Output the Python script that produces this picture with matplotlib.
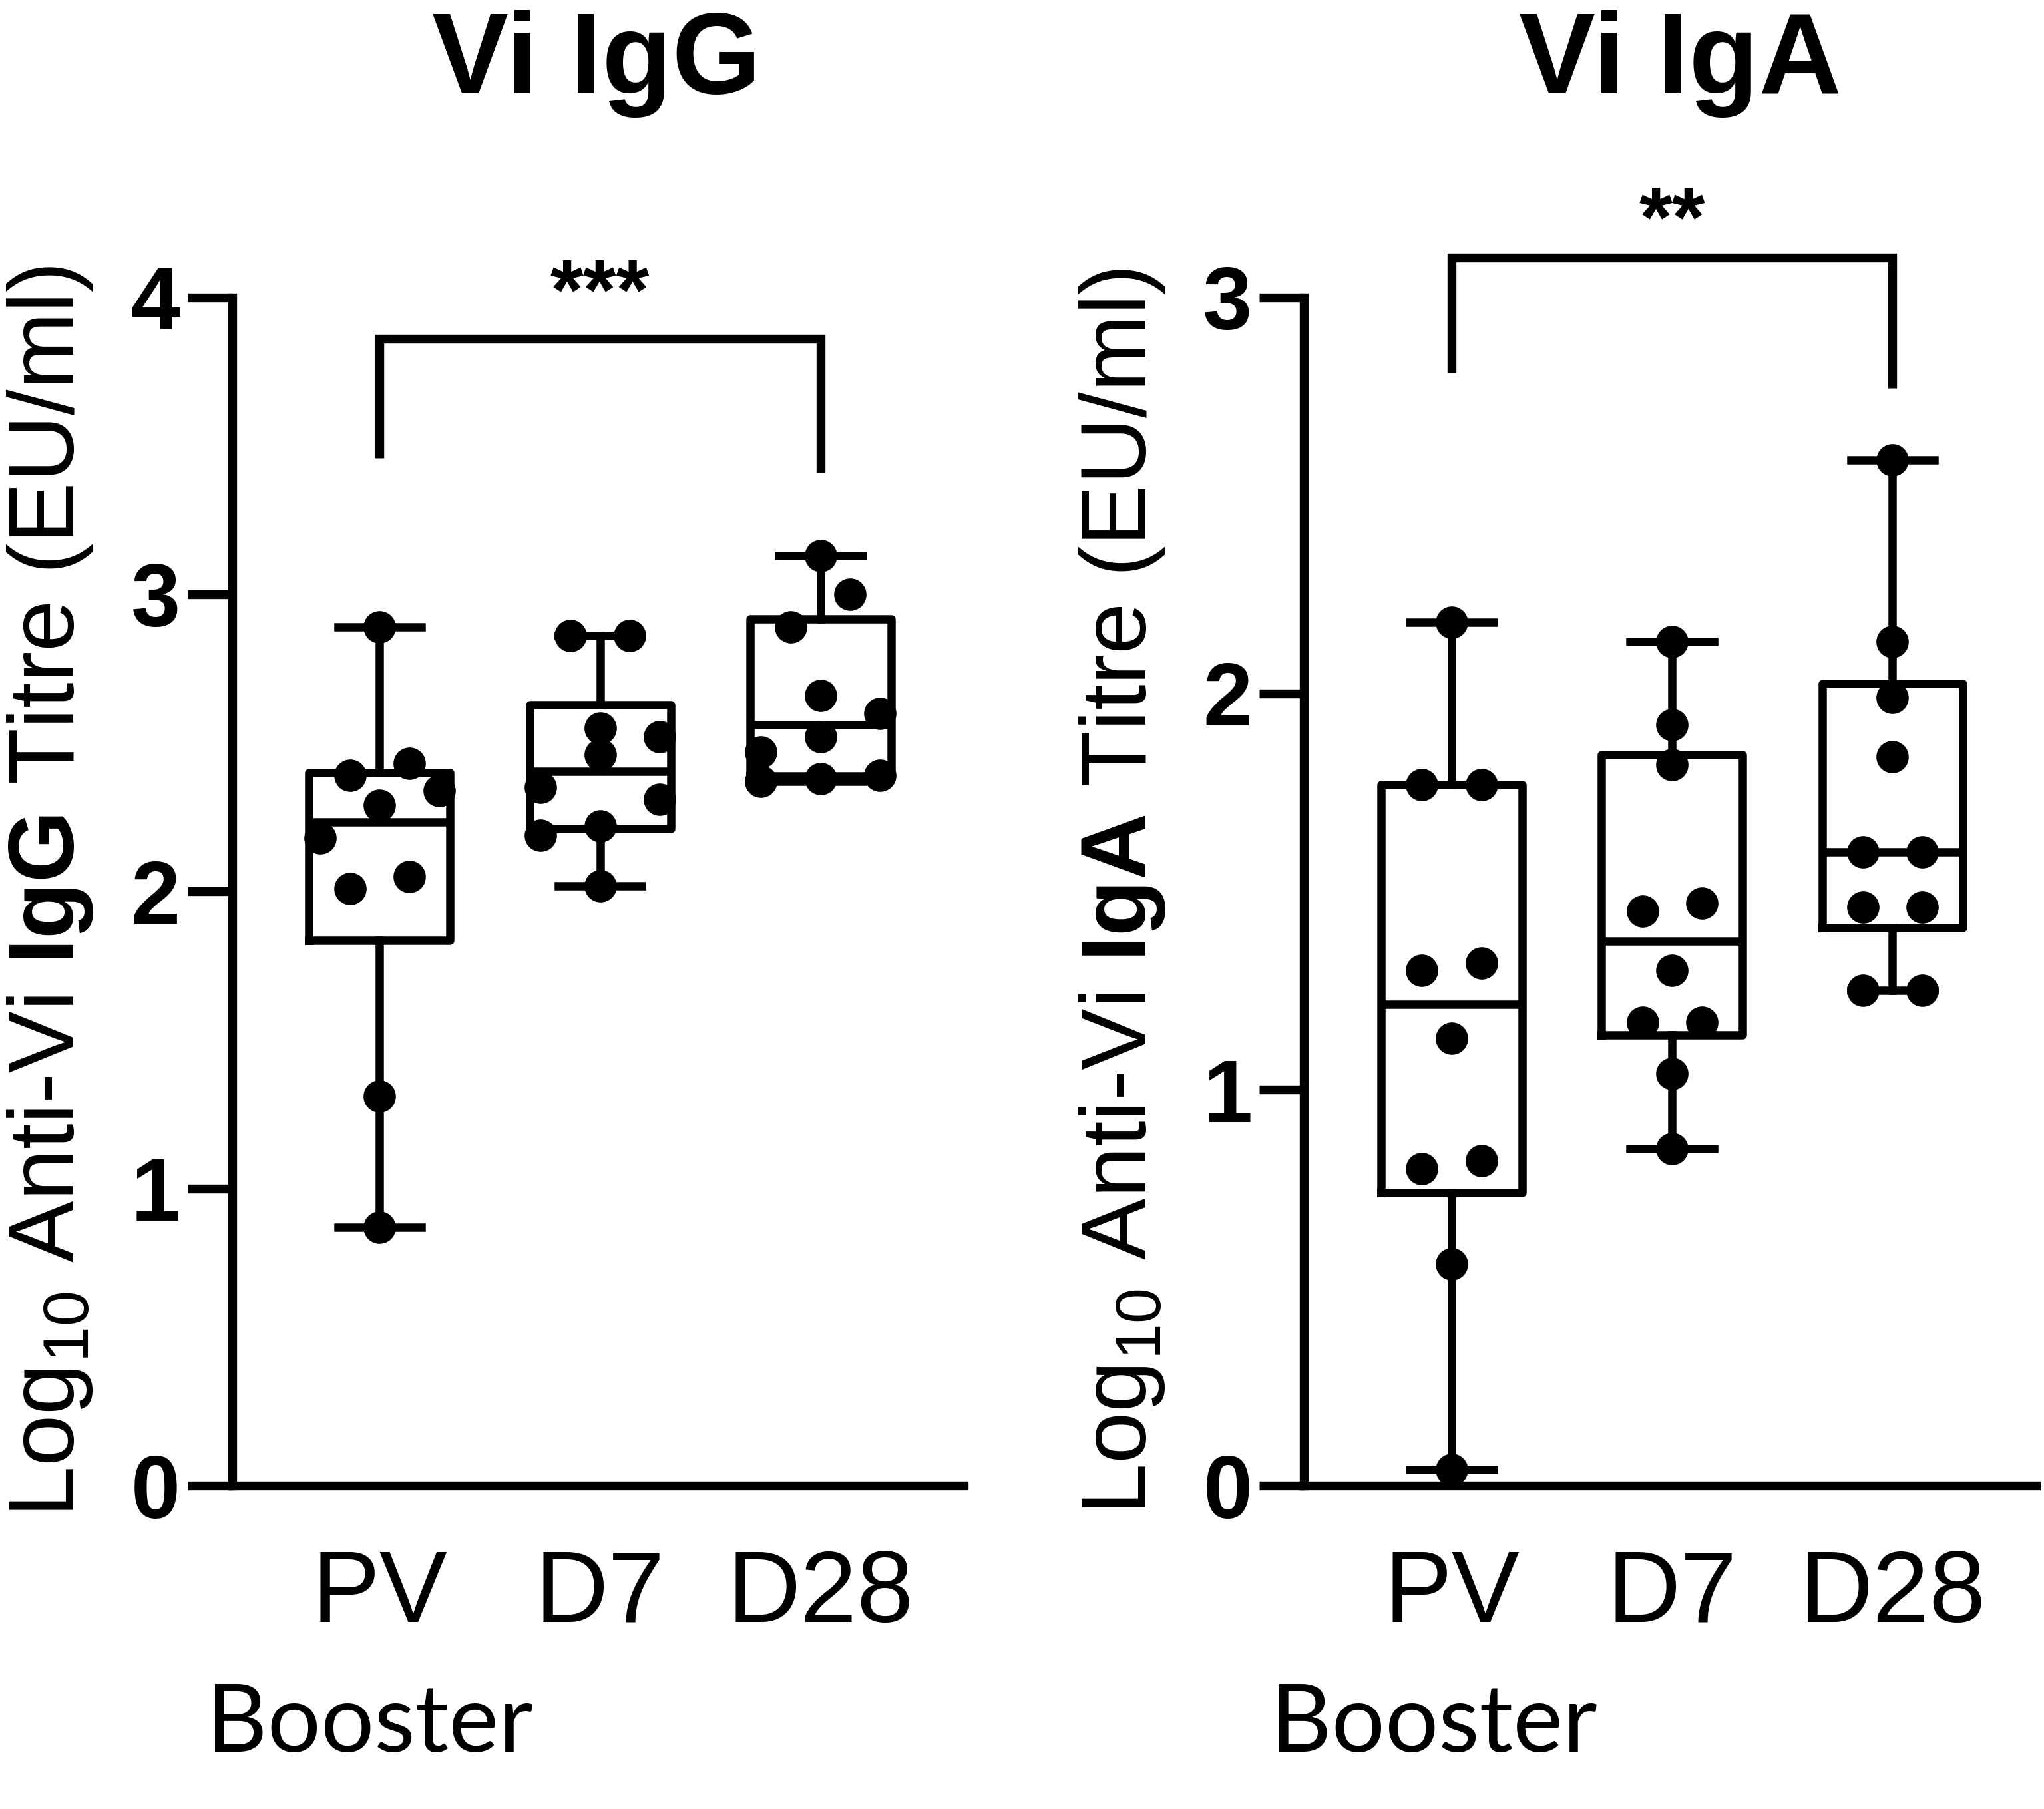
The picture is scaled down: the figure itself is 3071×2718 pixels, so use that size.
import numpy as np
import matplotlib
matplotlib.use("Agg")
import matplotlib.pyplot as plt

# ---------------- data (log10 titres) ----------------
groups = ["PV", "D7", "D28"]

igg_pv = [2.89, 2.43, 2.39, 2.34, 2.29, 2.18, 2.05, 2.01, 1.31, 0.87]
igg_d7 = [2.86, 2.86, 2.55, 2.52, 2.46, 2.35, 2.31, 2.22, 2.19, 2.02]
igg_d28 = [3.13, 3.00, 2.89, 2.66, 2.60, 2.52, 2.47, 2.39, 2.38, 2.37]

iga_pv = [2.18, 1.77, 1.77, 1.32, 1.30, 1.13, 0.82, 0.80, 0.56, 0.04]
iga_d7 = [2.13, 1.92, 1.82, 1.47, 1.45, 1.30, 1.17, 1.17, 1.04, 0.85]
iga_d28 = [2.59, 2.13, 1.99, 1.84, 1.60, 1.60, 1.46, 1.46, 1.25, 1.25]

igg_yticks = [0, 1, 2, 3, 4]
iga_yticks = [0, 1, 2, 3]

# significance annotations: (group a, group b, label)
igg_sig = ("PV", "D28", "***")
iga_sig = ("PV", "D28", "**")

# ---------------- style ----------------
plt.rcParams["font.family"] = ["Liberation Sans", "DejaVu Sans"]
plt.rcParams["mathtext.fontset"] = "custom"
plt.rcParams["mathtext.rm"] = "Liberation Sans"
plt.rcParams["mathtext.it"] = "Liberation Sans:italic"
plt.rcParams["mathtext.bf"] = "Liberation Sans:bold"
plt.rcParams["mathtext.default"] = "regular"

LW_AX = 4.8
LW_BOX = 4.5
MS = 16.5


def lane_offsets(vals, tol, step, cap=3):
    vals = np.asarray(vals, dtype=float)
    order = np.argsort(vals, kind="stable")
    offs = np.zeros(len(vals))
    clusters, cur = [], []
    for i in order:
        if cur and (vals[i] - vals[cur[-1]] < tol) and len(cur) < cap:
            cur.append(i)
        else:
            if cur:
                clusters.append(cur)
            cur = [i]
    clusters.append(cur)
    for c in clusters:
        k = len(c)
        for j, i in enumerate(c):
            offs[i] = (j - (k - 1) / 2.0) * step
    return offs


def stats_for(vals, label):
    v = np.asarray(vals, dtype=float)
    q1, med, q3 = np.percentile(v, [25, 50, 75], method="weibull")
    return dict(label=label, med=med, q1=q1, q3=q3,
                whislo=v.min(), whishi=v.max(), fliers=[])


def panel(ax, data, yticks, sig, ylabel, tol, star_y, bracket_top, leg_a, leg_b):
    pos = np.arange(1, len(groups) + 1)
    stats = [stats_for(d, g) for d, g in zip(data, groups)]
    ax.bxp(stats, positions=pos, widths=0.64, capwidths=0.38,
           showfliers=False, patch_artist=False,
           boxprops=dict(color="k", linewidth=LW_BOX),
           whiskerprops=dict(color="k", linewidth=LW_BOX),
           capprops=dict(color="k", linewidth=LW_BOX),
           medianprops=dict(color="k", linewidth=LW_BOX))
    for p, d in zip(pos, data):
        off = lane_offsets(d, tol, 0.27)
        ax.plot(p + off, d, "o", color="k", ms=MS, mec="k", zorder=4,
                clip_on=False)

    ax.set_xlim(0.33, 3.65)
    ax.set_ylim(yticks[0], yticks[-1])
    ax.set_yticks(yticks)
    ax.set_xticks(pos)
    ax.set_xticklabels(groups)
    for s in ("top", "right"):
        ax.spines[s].set_visible(False)
    for s in ("left", "bottom"):
        ax.spines[s].set_linewidth(LW_AX)
    ax.tick_params(axis="y", length=24, width=LW_AX, pad=4, labelsize=48)
    for t in ax.get_yticklabels():
        t.set_fontweight("bold")
    ax.tick_params(axis="x", length=0, pad=34, labelsize=55)

    ax.text(-0.248, 0.5, ylabel, transform=ax.transAxes, rotation=90,
            ha="center", va="center", fontsize=50)

    a = groups.index(sig[0]) + 1
    b = groups.index(sig[1]) + 1
    ax.plot([a, a, b, b], [leg_a, bracket_top, bracket_top, leg_b],
            color="k", lw=LW_AX, clip_on=False, solid_joinstyle="miter",
            solid_capstyle="butt")
    ax.text((a + b) / 2.0, star_y, sig[2], ha="center", va="baseline",
            fontsize=46, fontweight="bold")


fig = plt.figure(figsize=(15.355, 13.59), dpi=200)
ax1 = fig.add_axes([0.1135, 0.1787, 0.358, 0.657])
ax2 = fig.add_axes([0.638, 0.1787, 0.358, 0.657])

panel(ax1, [igg_pv, igg_d7, igg_d28], igg_yticks, igg_sig,
      r"Log$_{10}$ Anti-Vi $\mathbf{IgG}$ Titre (EU/ml)", 0.12,
      3.93, 3.86, 3.46, 3.41)
panel(ax2, [iga_pv, iga_d7, iga_d28], iga_yticks, iga_sig,
      r"Log$_{10}$ Anti-Vi $\mathbf{IgA}$ Titre (EU/ml)", 0.09,
      3.13, 3.10, 2.81, 2.77)

fig.text(0.292, 0.9485, "Vi IgG", ha="center", va="baseline",
         fontsize=62, fontweight="bold")
fig.text(0.822, 0.9485, "Vi IgA", ha="center", va="baseline",
         fontsize=62, fontweight="bold")

fig.text(0.101, 0.0316, "Booster", ha="left", va="baseline",
         fontsize=51, family=["Lato", "DejaVu Sans"])
fig.text(0.6217, 0.0316, "Booster", ha="left", va="baseline",
         fontsize=51, family=["Lato", "DejaVu Sans"])

fig.savefig("out.png", dpi=200, facecolor="white")
